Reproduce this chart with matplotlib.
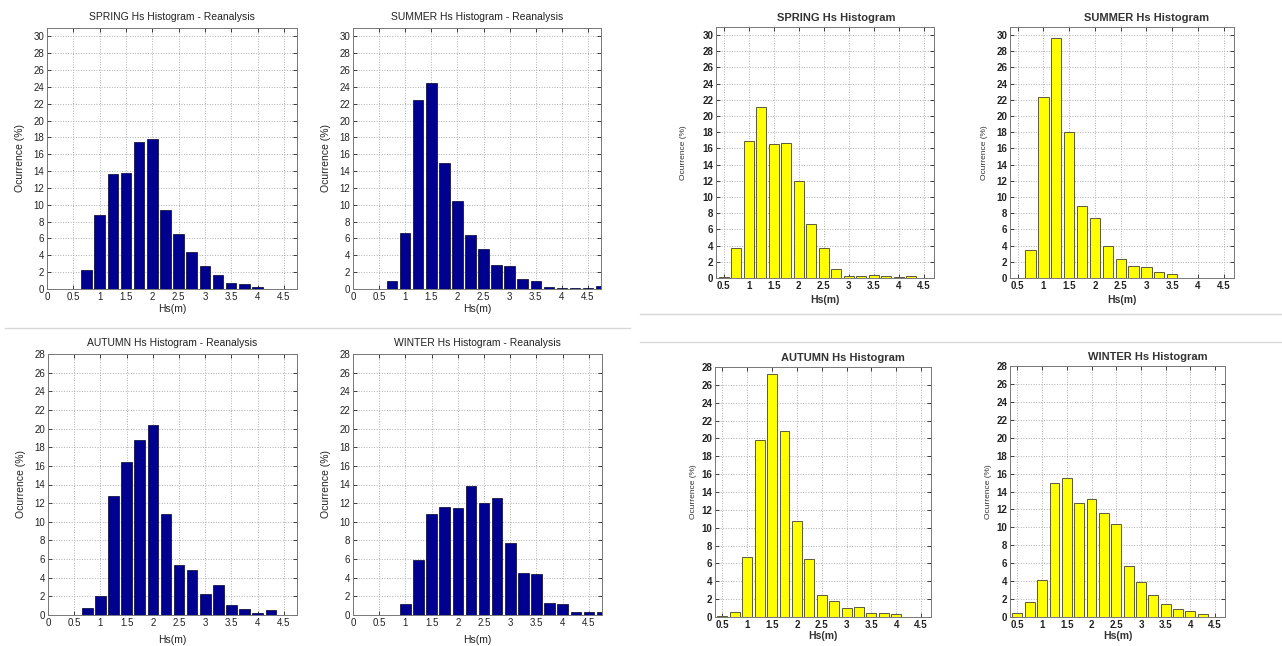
import numpy as np
import matplotlib
matplotlib.use("Agg")
import matplotlib.pyplot as plt
from matplotlib.lines import Line2D

# --- Hs histograms: reanalysis (left block) and measured (right block) ---
SEASONS = ['SPRING', 'SUMMER', 'AUTUMN', 'WINTER']

# reanalysis bins, 0.25 m wide, centres from 0.75 m
rea_centres = np.arange(0.75, 4.76, 0.25)
rea_spring = [2.2, 8.8, 13.7, 13.8, 17.5, 17.8, 9.4, 6.5, 4.4, 2.7, 1.7, 0.7, 0.6, 0.2, 0, 0, 0]
rea_summer = [1.0, 6.6, 22.4, 24.5, 15.0, 10.4, 6.4, 4.8, 2.8, 2.7, 1.2, 0.9, 0.2, 0.15, 0.15, 0.15, 0.3]
rea_autumn = [0.8, 2.0, 12.8, 16.4, 18.8, 20.4, 10.8, 5.4, 4.8, 2.3, 3.2, 1.1, 0.6, 0.2, 0.5, 0, 0]
rea_winter = [0, 1.2, 5.9, 10.8, 11.6, 11.5, 13.8, 12.0, 12.5, 7.7, 4.5, 4.4, 1.3, 1.2, 0.35, 0.35, 0.35]

# measured bins, 0.25 m wide, centres from 0.5 m
obs_centres = np.arange(0.5, 4.26, 0.25)
obs_spring = [0.1, 3.7, 16.9, 21.1, 16.6, 16.7, 12.0, 6.7, 3.7, 1.1, 0.25, 0.2, 0.35, 0.2, 0.1, 0.25]
obs_summer = [0, 3.4, 22.4, 29.7, 18.0, 8.9, 7.4, 3.9, 2.3, 1.5, 1.4, 0.8, 0.45, 0, 0, 0]
obs_autumn = [0.1, 0.6, 6.7, 19.8, 27.2, 20.8, 10.8, 6.5, 2.5, 1.8, 1.0, 1.1, 0.4, 0.5, 0.3, 0]
obs_winter = [0.5, 1.7, 4.1, 15.0, 15.5, 12.7, 13.2, 11.6, 10.4, 5.7, 3.9, 2.4, 1.4, 0.9, 0.7, 0.3]

W, H = 1282, 646
fig = plt.figure(figsize=(W / 100, H / 100), dpi=100)
plt.rcParams['font.family'] = ['Liberation Sans', 'DejaVu Sans']


def px_axes(x0, y0, x1, y1):
    return fig.add_axes([x0 / W, 1 - y1 / H, (x1 - x0) / W, (y1 - y0) / H])


def style(ax, ymax, xlim, xticks, weight):
    yt = np.arange(0, ymax + 0.1, 2)
    if ymax == 31:
        yt = np.arange(0, 31, 2)
    ax.set_ylim(0, ymax)
    ax.set_xlim(*xlim)
    ax.set_yticks(yt)
    ax.set_xticks(xticks)
    ax.set_xticklabels(['%g' % t for t in xticks], fontweight=weight)
    ax.set_yticklabels(['%d' % t for t in yt], fontweight=weight)
    ax.tick_params(direction='in', length=3, width=0.6, labelsize=7, pad=2,
                   top=True, right=True, colors='#222222')
    ax.grid(True, linestyle=':', color='#b0b0b0', linewidth=0.7)
    ax.set_axisbelow(True)
    for s in ax.spines.values():
        s.set_color('#777777')
        s.set_linewidth(0.7)


# left block: reanalysis
rea = [rea_spring, rea_summer, rea_autumn, rea_winter]
rea_boxes = [(47, 28, 297, 289), (353, 28, 601, 289),
             (48, 354, 297, 615), (353, 354, 602, 615)]
for i, (season, vals, box) in enumerate(zip(SEASONS, rea, rea_boxes)):
    ax = px_axes(*box)
    ymax = 31 if i < 2 else 28
    ax.bar(rea_centres, vals, width=0.2, color='#000090', edgecolor='#000030', linewidth=0.5)
    style(ax, ymax, (0, 4.75), np.arange(0, 4.51, 0.5), 'normal')
    ax.set_title(season + ' Hs Histogram - Reanalysis', fontsize=7.5, pad=6, color='#222222')
    ax.set_xlabel('Hs(m)', fontsize=7.5, color='#222222')
    ax.set_ylabel('Ocurrence (%)', fontsize=7.5, color='#222222')
    bw, bh = box[2] - box[0], box[3] - box[1]
    ax.xaxis.set_label_coords(0.5, -15 / bh if i < 2 else -20 / bh)
    ax.yaxis.set_label_coords(-22 / bw, 0.5)

# right block: measured
obs = [obs_spring, obs_summer, obs_autumn, obs_winter]
obs_boxes = [(716, 27, 934, 278), (1010, 27, 1234, 278),
             (715, 367, 931, 617), (1010, 366, 1225, 617)]
title_x = [0.55, 0.61, 0.59, 0.64]
ylab_off = [29, 22, 18, 18]
xlab_off = [17, 17, 14, 14]
for i, (season, vals, box) in enumerate(zip(SEASONS, obs, obs_boxes)):
    ax = px_axes(*box)
    ymax = 31 if i < 2 else 28
    ax.bar(obs_centres, vals, width=0.2, color='#ffff00', edgecolor='#5a5a3a', linewidth=0.7)
    style(ax, ymax, (0.35, 4.7), np.arange(0.5, 4.51, 0.5), 'bold')
    bw, bh = box[2] - box[0], box[3] - box[1]
    ax.text(title_x[i], 1 + 4 / bh, season + ' Hs Histogram', transform=ax.transAxes,
            ha='center', va='bottom', fontsize=8, fontweight='bold', color='#333333')
    ax.set_xlabel('Hs(m)', fontsize=7.5, fontweight='bold', color='#333333')
    ax.set_ylabel('Ocurrence (%)', fontsize=6, color='#333333')
    ax.xaxis.set_label_coords(0.5, -xlab_off[i] / bh)
    ax.yaxis.set_label_coords(-ylab_off[i] / bw, 0.5)

# thin panel separators
for x0, x1, y in [(5, 630, 328), (640, 1282, 314), (640, 1282, 342)]:
    fig.add_artist(Line2D([x0 / W, x1 / W], [1 - y / H, 1 - y / H],
                          color='#d8d8d8', linewidth=1))

fig.savefig('out.png', dpi=100)
